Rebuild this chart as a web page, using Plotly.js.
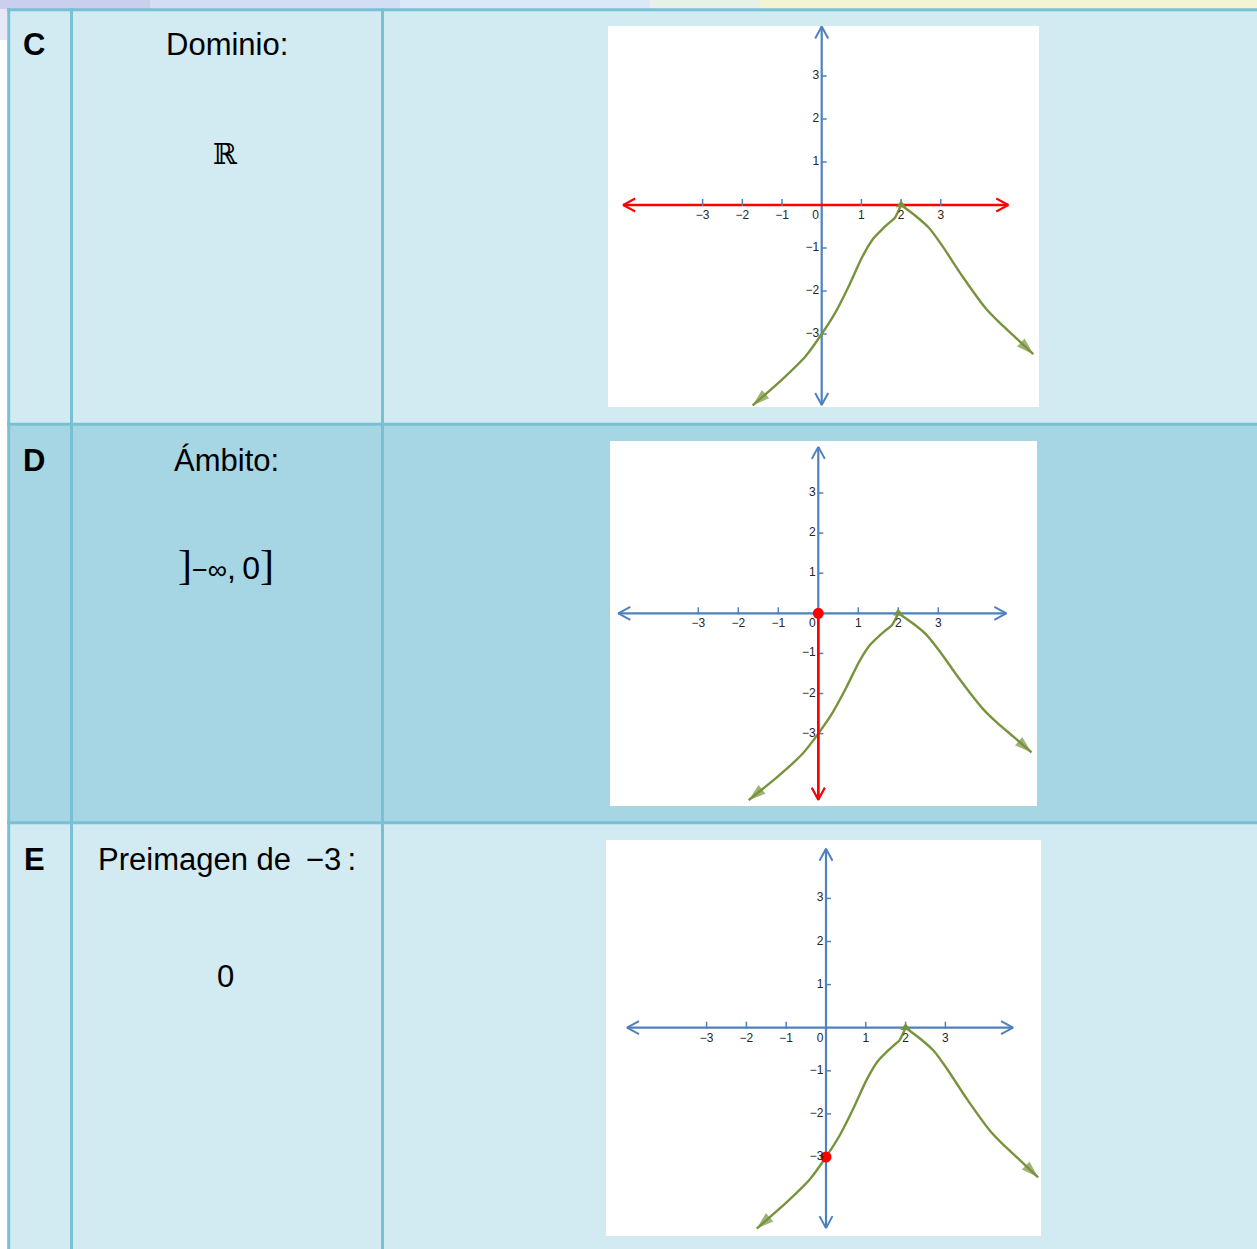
<!DOCTYPE html>
<html><head><meta charset="utf-8">
<script src="https://cdn.plot.ly/plotly-3.0.1.min.js"></script>
<style>html,body{margin:0;padding:0;background:#fff;overflow:hidden}#chart{width:1257px;height:1249px}</style>
</head><body><div id="chart"></div>
<script>
// ---------------- data ----------------
const rowLetters = ['C', 'D', 'E'];
const rowTitles = ['Dominio:', 'Ámbito:', 'Preimagen de\u2009 −3\u2009:'];
const rowAnswers = ['ℝ', ']−∞,0]', '0'];

const xTickValues = [-3, -2, -1, 0, 1, 2, 3];
const xTickLabels = ['−3', '−2', '−1', '0', '1', '2', '3'];
const yTickValues = [-3, -2, -1, 1, 2, 3];
const yTickLabels = ['−3', '−2', '−1', '1', '2', '3'];

const xAxisEnds = [-5, 4.7];
const yAxisEnds = [-4.65, 4.15];

// function graph, split at the peak (2, 0)
const leftBranchX = [2, 1.84, 1.69, 1.55, 1.30, 1.02, 0.69, 0.35, 0, -0.40, -1.0, -1.74];
const leftBranchY = [0, -0.30, -0.42, -0.54, -0.78, -1.21, -1.87, -2.49, -3, -3.51, -4.06, -4.66];
const rightBranchX = [2, 2.36, 2.70, 3.03, 3.53, 4.12, 4.46, 4.87, 5.33];
const rightBranchY = [0, -0.25, -0.53, -0.94, -1.64, -2.39, -2.72, -3.07, -3.47];

// highlights
const rangeSegmentX = [0, 0];          // Ámbito ]-∞,0]
const rangeSegmentY = [0, -4.65];
const rangeEndX = [0];
const rangeEndY = [0];
const preimageX = [0];                 // Preimagen de -3
const preimageY = [-3];

// ---------------- layout helpers ----------------
const W = 1257, H = 1249;
const BLUE = '#4F81BD', GREEN = '#77933C', RED = '#FF0000';
const ROW_LIGHT = '#D2EAF2', ROW_DARK = '#A6D5E3', BORDER = '#79C0D5';
const LABEL_FONT = {family: 'Liberation Sans, Arial, sans-serif', size: 12, color: '#262626'};

const panels = [
  {rect: [608, 1039, 26, 407],  origin: [821.7, 205],   scale: [39.7, 43.0]},
  {rect: [610, 1037, 441, 806], origin: [818.3, 613.3], scale: [40.0, 40.1]},
  {rect: [606, 1041, 840, 1236], origin: [826, 1027.7], scale: [39.8, 43.1]}
];

function rectPx(x0, y0, x1, y1, color) {
  return {type: 'rect', xref: 'paper', yref: 'paper', layer: 'below',
    x0: x0 / W, x1: x1 / W, y0: 1 - y1 / H, y1: 1 - y0 / H,
    fillcolor: color, line: {width: 0}};
}
function linePx(x0, y0, x1, y1, color, width) {
  return {type: 'line', xref: 'paper', yref: 'paper', layer: 'below',
    x0: x0 / W, x1: x1 / W, y0: 1 - y0 / H, y1: 1 - y1 / H,
    line: {color: color, width: width}};
}

const shapes = [
  rectPx(0, 0, 150, 9, '#CACFEE'),
  rectPx(150, 0, 400, 9, '#D3DEF4'),
  rectPx(400, 0, 650, 9, '#DAE8F7'),
  rectPx(650, 0, 760, 9, '#E8F0EA'),
  rectPx(760, 0, 1257, 9, '#F4F3D2'),
  rectPx(0, 9, 7, 40, '#E6E8F6'),
  rectPx(8, 9, 1257, 424, ROW_LIGHT),
  rectPx(8, 424, 1257, 823, ROW_DARK),
  rectPx(8, 823, 1257, 1249, ROW_LIGHT)
];
panels.forEach(p => shapes.push(rectPx(p.rect[0], p.rect[2], p.rect[1], p.rect[3], '#FFFFFF')));
shapes.push(linePx(8.7, 8.3, 8.7, 1249, BORDER, 3));
shapes.push(linePx(71.5, 8.3, 71.5, 1249, BORDER, 3));
shapes.push(linePx(382.5, 8.3, 382.5, 1249, BORDER, 3));
shapes.push(linePx(7, 9.7, 1257, 9.7, BORDER, 3));
shapes.push(linePx(7, 424.3, 1257, 424.3, BORDER, 3));
shapes.push(linePx(7, 822.8, 1257, 822.8, BORDER, 3));

// ---------------- text annotations ----------------
const textFont = {family: 'Liberation Sans, Arial, sans-serif', color: '#000000'};
function ann(text, px, py, size, extra) {
  return Object.assign({text: text, x: px / W, y: 1 - py / H, xref: 'paper', yref: 'paper',
    xanchor: 'center', yanchor: 'middle', showarrow: false,
    font: Object.assign({}, textFont, {size: size})}, extra || {});
}
const rowCenters = [44.5, 461, 859.5];
const answerCenters = [153.5, 565, 976.5];
const annotations = [];
rowLetters.forEach((l, i) => annotations.push(ann('<b>' + l + '</b>', 34, rowCenters[i], 31)));
rowTitles.forEach((t, i) => annotations.push(ann(t, 226.5, rowCenters[i], 31)));
annotations.push(ann(rowAnswers[0], 225.5, answerCenters[0], 29,
  {font: {family: 'DejaVu Serif, serif', size: 29, color: '#000000'}}));
const intervalRich = rowAnswers[1]
  .replace(/\]/g, '\u0001')
  .replace('−∞', '<span style="font-size:27px">−∞</span>')
  .replace(',', ',\u2009')
  .replace(/\u0001/g, '<span style="font-size:42px;font-family:\'Liberation Serif\'">]</span>');
annotations.push(ann(intervalRich, 225.5, answerCenters[1], 32));
annotations.push(ann(rowAnswers[2], 225, answerCenters[2], 31));

// ---------------- traces per panel ----------------
const traces = [];
const layout = {
  width: W, height: H, autosize: false,
  margin: {l: 0, r: 0, t: 0, b: 0, pad: 0},
  paper_bgcolor: '#FFFFFF', plot_bgcolor: 'rgba(0,0,0,0)',
  showlegend: false, dragmode: false,
  shapes: shapes, annotations: annotations
};

panels.forEach((p, k) => {
  const sfx = k === 0 ? '' : String(k + 1);
  const sx = p.scale[0], sy = p.scale[1];
  const [x0, x1, y0, y1] = p.rect;
  layout['xaxis' + sfx] = {domain: [x0 / W, x1 / W], range: [(x0 - p.origin[0]) / sx, (x1 - p.origin[0]) / sx],
    visible: false, fixedrange: true, anchor: 'y' + sfx};
  layout['yaxis' + sfx] = {domain: [1 - y1 / H, 1 - y0 / H], range: [(p.origin[1] - y1) / sy, (p.origin[1] - y0) / sy],
    visible: false, fixedrange: true, anchor: 'x' + sfx};

  const base = {type: 'scatter', xaxis: 'x' + sfx, yaxis: 'y' + sfx, hoverinfo: 'skip', showlegend: false, cliponaxis: false};
  const add = t => traces.push(Object.assign({}, base, t));
  const line = (x, y, color, width) => add({mode: 'lines', x: x, y: y, line: {color: color, width: width}});
  const chevron = (tx, ty, dx, dy, color, width) => {
    const L = 12, Wd = 6.5;
    if (dx !== 0) {
      const bx = tx - dx * L / sx;
      line([bx, tx, bx], [ty + Wd / sy, ty, ty - Wd / sy], color, width);
    } else {
      const by = ty - dy * L / sy;
      line([tx - Wd / sx, tx, tx + Wd / sx], [by, ty, by], color, width);
    }
  };

  const xColor = k === 0 ? RED : BLUE;
  const xWidth = k === 0 ? 2.6 : 2.2;
  // y axis
  line([0, 0], yAxisEnds, BLUE, 2.2);
  chevron(0, yAxisEnds[1], 0, 1, BLUE, 2);
  chevron(0, yAxisEnds[0], 0, -1, BLUE, 2);
  // x axis
  line(xAxisEnds, [0, 0], xColor, xWidth);
  chevron(xAxisEnds[1], 0, 1, 0, xColor, 2);
  chevron(xAxisEnds[0], 0, -1, 0, xColor, 2);

  // ticks
  const tx = [], ty = [];
  xTickValues.filter(t => t !== 0).forEach(t => { tx.push(t, t, null); ty.push(-1 / sy, 6 / sy, null); });
  yTickValues.forEach(t => { tx.push(0, 5 / sx, null); ty.push(t, t, null); });
  add({mode: 'lines', x: tx, y: ty, line: {color: BLUE, width: 1.5}, connectgaps: false});

  // curve
  const arrowSizes = n => Array.from({length: n}, (_, i) => i === n - 1 ? 18 : 0);
  [[leftBranchX, leftBranchY], [rightBranchX, rightBranchY]].forEach(([bx, by]) => {
    add({mode: 'lines+markers', x: bx, y: by,
      line: {color: GREEN, width: 2.4, shape: 'spline', smoothing: 0.7},
      marker: {symbol: 'arrow', angleref: 'previous', size: arrowSizes(bx.length), color: GREEN, line: {width: 0}}});
  });
  add({mode: 'markers', x: [rightBranchX[0]], y: [rightBranchY[0]],
    marker: {symbol: 'triangle-up', size: 9, color: GREEN, line: {width: 0}}});

  // highlights
  if (k === 1) {
    line(rangeSegmentX, rangeSegmentY, RED, 2.6);
    chevron(rangeSegmentX[1], rangeSegmentY[1], 0, -1, RED, 2);
    add({mode: 'markers', x: rangeEndX, y: rangeEndY, marker: {color: RED, size: 11, line: {width: 0}}});
  }
  if (k === 2) {
    add({mode: 'markers', x: preimageX, y: preimageY, marker: {color: RED, size: 11, line: {width: 0}}});
  }

  // tick labels
  add({mode: 'text', x: xTickValues.map(t => t === 0 ? -6 / sx : t), y: xTickValues.map(() => -11 / sy),
    text: xTickLabels, textposition: 'middle center', textfont: LABEL_FONT});
  add({mode: 'text', x: yTickValues.map(() => -2.5 / sx), y: yTickValues,
    text: yTickLabels, textposition: 'middle left', textfont: LABEL_FONT});
});

Plotly.newPlot('chart', traces, layout, {staticPlot: true, displayModeBar: false});
</script>
</body></html>
